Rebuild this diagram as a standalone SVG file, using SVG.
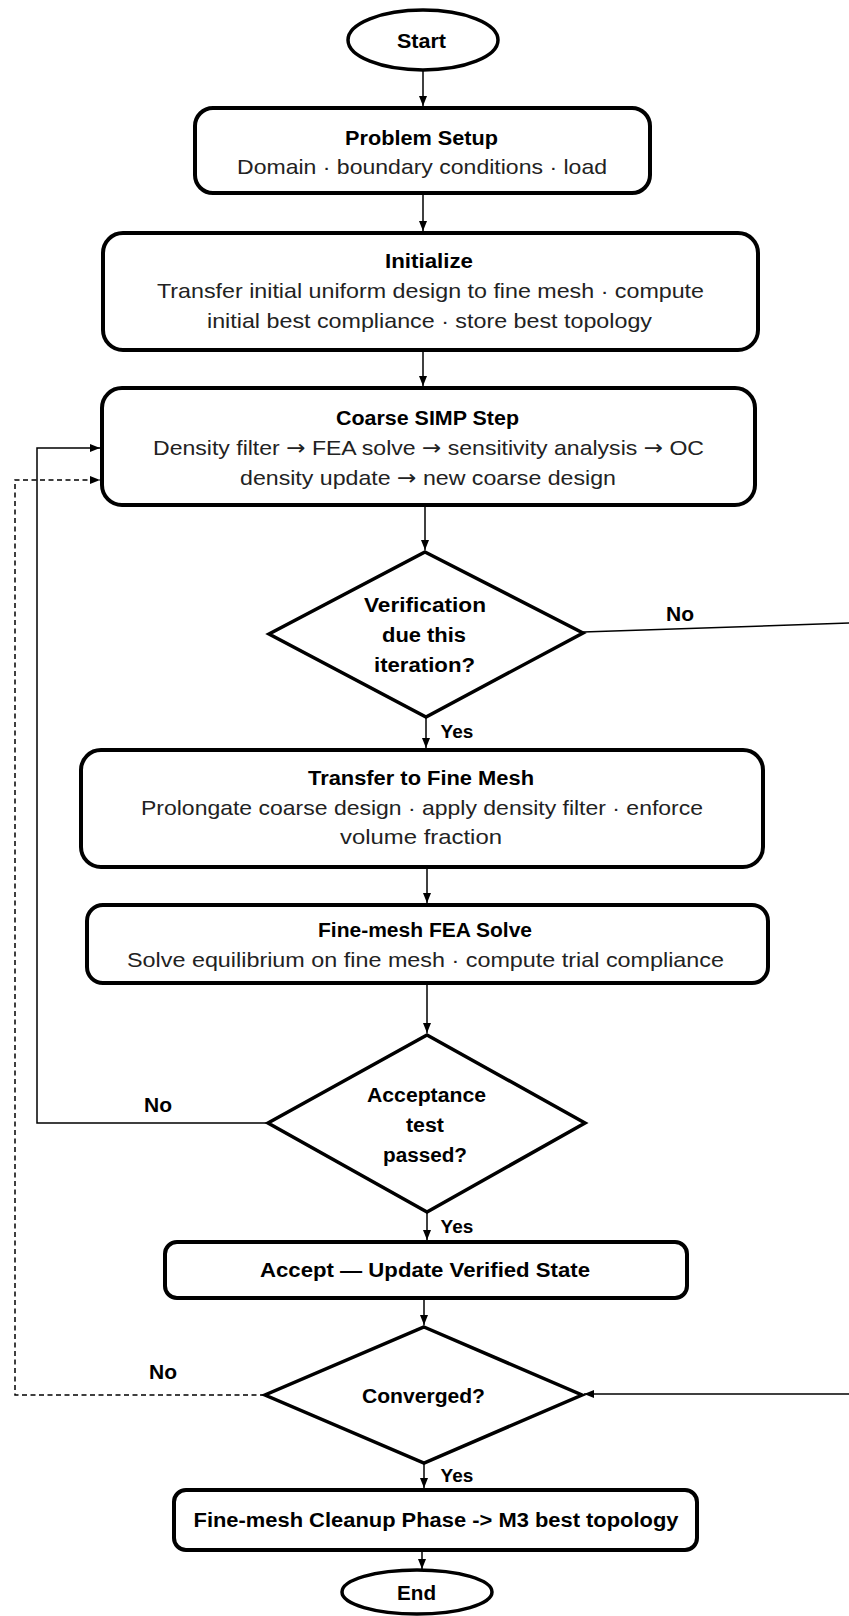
<svg xmlns="http://www.w3.org/2000/svg" width="849" height="1616" viewBox="0 0 849 1616">
<style>
.bg{fill:#fff}
.box{fill:#fff;stroke:#000;stroke-width:4}
.dia{fill:#fff;stroke:#000;stroke-width:3.5}
.ell{fill:#fff;stroke:#000;stroke-width:3.5}
.t{font-family:"Liberation Sans",Arial,sans-serif;font-size:21px;text-anchor:middle;fill:#222}
.b{font-family:"Liberation Sans",Arial,sans-serif;font-size:20px;font-weight:bold;text-anchor:middle;fill:#000}
.lbl{font-family:"Liberation Sans",Arial,sans-serif;font-size:19px;font-weight:bold;text-anchor:middle;fill:#000}
.no{font-size:21px}
.ar{font-family:"DejaVu Sans",sans-serif}
.c{fill:none;stroke:#000;stroke-width:1.5}
.d{fill:none;stroke:#000;stroke-width:1.5;stroke-dasharray:5 3.5}
</style>
<defs>
<marker id="ah" markerUnits="userSpaceOnUse" markerWidth="11" markerHeight="9" refX="10" refY="4" orient="auto">
<path d="M0,0 L10,4 L0,8 z" fill="#000"/>
</marker>
</defs>
<rect class="bg" x="0" y="0" width="849" height="1616"/>

<g id="connectors">
<line class="c" x1="423" y1="70" x2="423" y2="106" marker-end="url(#ah)"/>
<line class="c" x1="423" y1="193" x2="423" y2="231" marker-end="url(#ah)"/>
<line class="c" x1="423" y1="350" x2="423" y2="386" marker-end="url(#ah)"/>
<line class="c" x1="425" y1="505" x2="425" y2="550" marker-end="url(#ah)"/>
<line class="c" x1="426" y1="717" x2="426" y2="748" marker-end="url(#ah)"/>
<line class="c" x1="427" y1="867" x2="427" y2="903" marker-end="url(#ah)"/>
<line class="c" x1="427" y1="983" x2="427" y2="1033" marker-end="url(#ah)"/>
<line class="c" x1="427" y1="1212" x2="427" y2="1240" marker-end="url(#ah)"/>
<line class="c" x1="424" y1="1298" x2="424" y2="1325" marker-end="url(#ah)"/>
<line class="c" x1="424" y1="1463" x2="424" y2="1488" marker-end="url(#ah)"/>
<line class="c" x1="422" y1="1550" x2="422" y2="1569" marker-end="url(#ah)"/>
<polyline class="c" points="268,1123 37,1123 37,448 100,448" marker-end="url(#ah)"/>
<polyline class="d" points="265,1395 15,1395 15,480 100,480" marker-end="url(#ah)"/>
<line class="c" x1="583" y1="632" x2="849" y2="623"/>
<line class="c" x1="849" y1="1394" x2="584" y2="1394" marker-end="url(#ah)"/>
<text class="lbl no" x="680" y="621">No</text>
<text class="lbl no" x="158" y="1112">No</text>
<text class="lbl no" x="163" y="1379">No</text>
<text class="lbl" x="457" y="738">Yes</text>
<text class="lbl" x="457" y="1233">Yes</text>
<text class="lbl" x="457" y="1482">Yes</text>
</g>

<g id="start">
<ellipse class="ell" cx="423" cy="40" rx="75" ry="30"/>
<text class="b" x="421.5" y="48" textLength="49" lengthAdjust="spacingAndGlyphs">Start</text>
</g>

<g id="problem-setup">
<rect class="box" x="195" y="108" width="455" height="85" rx="18"/>
<text class="b" x="421.5" y="145" textLength="153" lengthAdjust="spacingAndGlyphs">Problem Setup</text>
<text class="t" x="422" y="174" textLength="370" lengthAdjust="spacingAndGlyphs">Domain · boundary conditions · load</text>
</g>

<g id="initialize">
<rect class="box" x="103" y="233" width="655" height="117" rx="20"/>
<text class="b" x="429" y="268" textLength="88" lengthAdjust="spacingAndGlyphs">Initialize</text>
<text class="t" x="430.5" y="298" textLength="547" lengthAdjust="spacingAndGlyphs">Transfer initial uniform design to fine mesh · compute</text>
<text class="t" x="429.5" y="328" textLength="445" lengthAdjust="spacingAndGlyphs">initial best compliance · store best topology</text>
</g>

<g id="coarse-simp">
<rect class="box" x="102" y="388" width="653" height="117" rx="20"/>
<text class="b" x="427.5" y="425" textLength="183" lengthAdjust="spacingAndGlyphs">Coarse SIMP Step</text>
<text class="t" x="428.5" y="455" textLength="551" lengthAdjust="spacingAndGlyphs">Density filter <tspan class="ar">→</tspan> FEA solve <tspan class="ar">→</tspan> sensitivity analysis <tspan class="ar">→</tspan> OC</text>
<text class="t" x="428" y="485" textLength="376" lengthAdjust="spacingAndGlyphs">density update <tspan class="ar">→</tspan> new coarse design</text>
</g>

<g id="verification">
<polygon class="dia" points="425,552 583,633 426,717 269,634"/>
<text class="b" x="425" y="612" textLength="122" lengthAdjust="spacingAndGlyphs">Verification</text>
<text class="b" x="424" y="642" textLength="84" lengthAdjust="spacingAndGlyphs">due this</text>
<text class="b" x="424.5" y="672" textLength="101" lengthAdjust="spacingAndGlyphs">iteration?</text>
</g>

<g id="transfer-fine">
<rect class="box" x="81" y="750" width="682" height="117" rx="20"/>
<text class="b" x="421" y="785" textLength="226" lengthAdjust="spacingAndGlyphs">Transfer to Fine Mesh</text>
<text class="t" x="422" y="815" textLength="562" lengthAdjust="spacingAndGlyphs">Prolongate coarse design · apply density filter · enforce</text>
<text class="t" x="421" y="844" textLength="162" lengthAdjust="spacingAndGlyphs">volume fraction</text>
</g>

<g id="fine-fea">
<rect class="box" x="87" y="905" width="681" height="78" rx="16"/>
<text class="b" x="425" y="937" textLength="214" lengthAdjust="spacingAndGlyphs">Fine-mesh FEA Solve</text>
<text class="t" x="425.5" y="967" textLength="597" lengthAdjust="spacingAndGlyphs">Solve equilibrium on fine mesh · compute trial compliance</text>
</g>

<g id="acceptance">
<polygon class="dia" points="427,1035 585,1123 427,1212 268,1123"/>
<text class="b" x="426.5" y="1102" textLength="119" lengthAdjust="spacingAndGlyphs">Acceptance</text>
<text class="b" x="425" y="1132" textLength="38" lengthAdjust="spacingAndGlyphs">test</text>
<text class="b" x="425" y="1162" textLength="84" lengthAdjust="spacingAndGlyphs">passed?</text>
</g>

<g id="accept-update">
<rect class="box" x="165" y="1242" width="522" height="56" rx="12"/>
<text class="b" x="425" y="1277" textLength="330" lengthAdjust="spacingAndGlyphs">Accept — Update Verified State</text>
</g>

<g id="converged">
<polygon class="dia" points="424,1327 582,1395 424,1463 265,1395"/>
<text class="b" x="423.5" y="1403" textLength="123" lengthAdjust="spacingAndGlyphs">Converged?</text>
</g>

<g id="cleanup">
<rect class="box" x="174" y="1490" width="523" height="60" rx="12"/>
<text class="b" x="436" y="1527" textLength="485" lengthAdjust="spacingAndGlyphs">Fine-mesh Cleanup Phase -&gt; M3 best topology</text>
</g>

<g id="end">
<ellipse class="ell" cx="417" cy="1592" rx="75" ry="22"/>
<text class="b" x="416.5" y="1600" textLength="39" lengthAdjust="spacingAndGlyphs">End</text>
</g>
</svg>
